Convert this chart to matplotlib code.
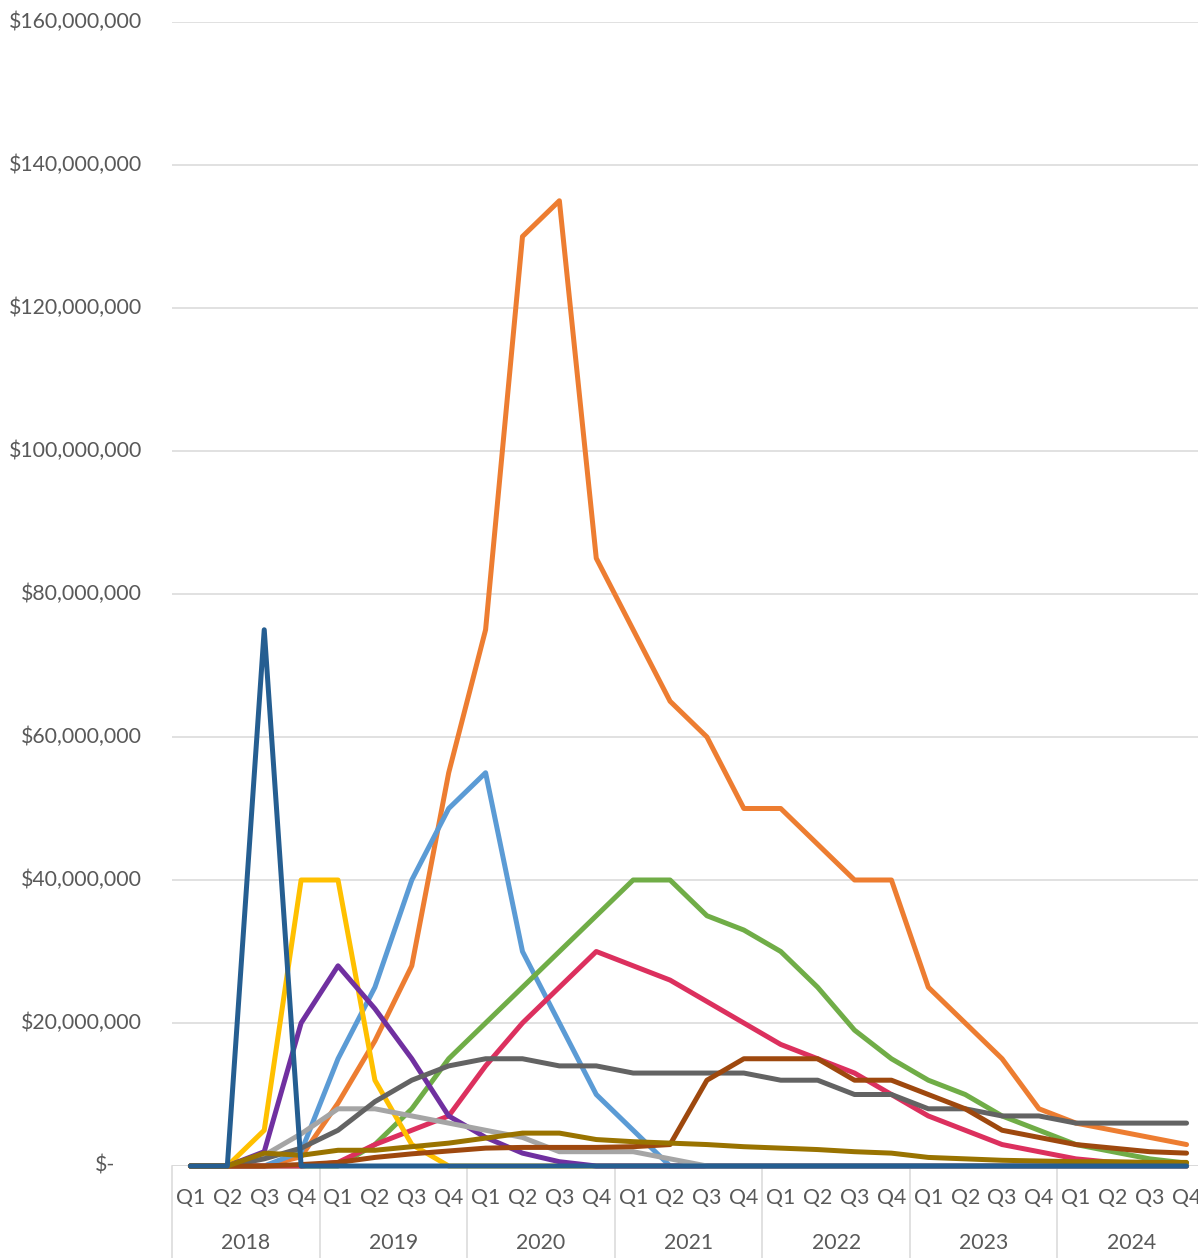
import numpy as np
import matplotlib
matplotlib.use("Agg")
import matplotlib.pyplot as plt
import matplotlib.transforms as mtransforms

plt.rcParams["font.family"] = ["Lato", "DejaVu Sans"]

years = ["2018", "2019", "2020", "2021", "2022", "2023", "2024"]
quarters = ["Q1", "Q2", "Q3", "Q4"]

# values in $ millions, one per quarter, Q1 2018 .. Q4 2024
orange = [0, 0, 0, 1.3, 8.8, 17.5, 28, 55, 75, 130, 135, 85, 75, 65, 60, 50,
          50, 45, 40, 40, 25, 20, 15, 8, 6, 5, 4, 3]
light_blue = [0, 0, 0, 2, 15, 25, 40, 50, 55, 30, 20, 10, 5, 0, 0, 0,
              0, 0, 0, 0, 0, 0, 0, 0, 0, 0, 0, 0]
green = [0, 0, 0, 0, 0, 3, 8, 15, 20, 25, 30, 35, 40, 40, 35, 33,
         30, 25, 19, 15, 12, 10, 7, 5, 3, 2, 1, 0.4]
crimson = [0, 0, 0, 0, 0.5, 3, 5, 7, 14, 20, 25, 30, 28, 26, 23, 20,
           17, 15, 13, 10, 7, 5, 3, 2, 1, 0.5, 0.2, 0]
yellow = [0, 0, 5, 40, 40, 12, 3, 0, 0, 0, 0, 0, 0, 0, 0, 0,
          0, 0, 0, 0, 0, 0, 0, 0, 0, 0, 0, 0]
purple = [0, 0, 2, 20, 28, 22, 15, 7, 4, 1.8, 0.6, 0, 0, 0, 0, 0,
          0, 0, 0, 0, 0, 0, 0, 0, 0, 0, 0, 0]
light_gray = [0, 0, 1.5, 4.5, 8, 8, 7, 6, 5, 4, 2, 2, 2, 1, 0, 0,
              0, 0, 0, 0, 0, 0, 0, 0, 0, 0, 0, 0]
dark_gray = [0, 0, 1, 2.5, 5, 9, 12, 14, 15, 15, 14, 14, 13, 13, 13, 13,
             12, 12, 10, 10, 8, 8, 7, 7, 6, 6, 6, 6]
brown = [0, 0, 0, 0.2, 0.5, 1.2, 1.7, 2.1, 2.5, 2.6, 2.6, 2.6, 2.7, 3, 12, 15,
         15, 15, 12, 12, 10, 8, 5, 4, 3, 2.5, 2, 1.8]
olive = [0, 0, 1.8, 1.5, 2.2, 2.2, 2.7, 3.2, 3.9, 4.6, 4.6, 3.7, 3.4, 3.2, 3, 2.7,
         2.5, 2.3, 2, 1.8, 1.2, 1, 0.8, 0.7, 0.6, 0.6, 0.5, 0.5]
dark_blue = [0, 0, 75, 0, 0, 0, 0, 0, 0, 0, 0, 0, 0, 0, 0, 0,
             0, 0, 0, 0, 0, 0, 0, 0, 0, 0, 0, 0]

series = [
    (orange, "#ED7D31"),
    (light_blue, "#5B9BD5"),
    (green, "#70AD47"),
    (crimson, "#DC305E"),
    (yellow, "#FFC000"),
    (purple, "#7030A0"),
    (light_gray, "#A5A5A5"),
    (dark_gray, "#636363"),
    (brown, "#9E480E"),
    (olive, "#997300"),
    (dark_blue, "#255E91"),
]

y_ticks = [0, 20, 40, 60, 80, 100, 120, 140, 160]
y_labels = ["$-", "$20,000,000", "$40,000,000", "$60,000,000", "$80,000,000",
            "$100,000,000", "$120,000,000", "$140,000,000", "$160,000,000"]

W, H = 1198, 1258
fig = plt.figure(figsize=(W / 100, H / 100), dpi=100)
ax = fig.add_axes([172 / W, 92 / H, 1033 / W, 1144 / H])

n = len(years) * len(quarters)
x = np.arange(n)
for vals, col in series:
    ax.plot(x, vals, color=col, lw=3.6, solid_capstyle="round",
            solid_joinstyle="round", zorder=3, clip_on=False)

ax.set_xlim(-0.5, n - 0.5)
ax.set_ylim(0, 160)
ax.set_yticks(y_ticks)
ax.yaxis.grid(True, color="#D9D9D9", lw=1.1, zorder=0)
ax.set_axisbelow(True)
ax.tick_params(left=False, bottom=False, labelleft=False, labelbottom=False)
for s in ax.spines.values():
    s.set_visible(False)
ax.axhline(0, color="#D9D9D9", lw=1.1, zorder=1)

txt_col = "#595959"
ytr = mtransforms.blended_transform_factory(ax.transAxes, ax.transData)
for v, lab in zip(y_ticks, y_labels):
    xoff = -30 / 1033 if lab != "$-" else -57 / 1033
    ax.text(xoff, v, lab, transform=ytr, ha="right", va="center",
            fontsize=15.3, color=txt_col)

xtr = mtransforms.blended_transform_factory(ax.transData, ax.transAxes)
for i in range(n):
    ax.text(x[i], -32 / 1144, quarters[i % 4], transform=xtr, ha="center",
            va="center", fontsize=15.3, color=txt_col)
for j, yr in enumerate(years):
    ax.text(j * 4 + 1.5, -77 / 1144, yr, transform=xtr, ha="center",
            va="center", fontsize=15.3, color=txt_col)
for j in range(len(years) + 1):
    ax.plot([j * 4 - 0.5, j * 4 - 0.5], [0, -92 / 1144], transform=xtr,
            color="#D9D9D9", lw=1.1, clip_on=False, zorder=1)

fig.savefig("out.png", dpi=100)
